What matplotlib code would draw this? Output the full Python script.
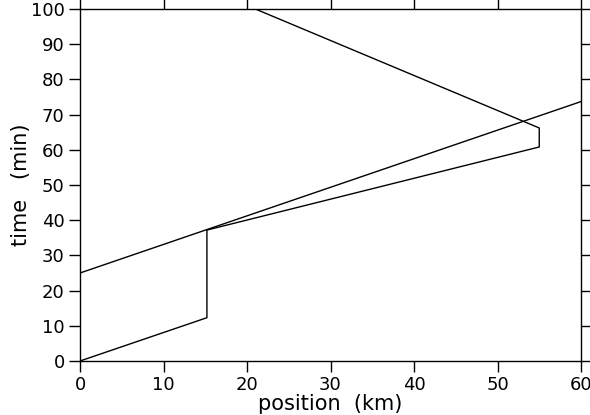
import numpy as np
import matplotlib.pyplot as plt

# path of the vehicle: position (km) vs time (min)
path_x = [0, 15.2, 15.2, 55, 55, 21]
path_t = [0, 12.3, 37.2, 60.8, 66.2, 100]

# straight line
line_x = [0, 60]
line_t = [25, 73.7]

fig = plt.figure(figsize=(5.9, 4.15), dpi=100)
ax = fig.add_axes([80/590, 54/415, 501/590, 352/415])

ax.plot(path_x, path_t, color='black', lw=1)
ax.plot(line_x, line_t, color='black', lw=1)

ax.set_xlim(0, 60)
ax.set_ylim(0, 100)
ax.set_xticks(np.arange(0, 61, 10))
ax.set_yticks(np.arange(0, 101, 10))
ax.tick_params(direction='out', length=8, width=1, labelsize=13,
               top=True, right=True, pad=3)
for s in ax.spines.values():
    s.set_linewidth(1)

ax.set_xlabel("position  (km)", fontsize=15, labelpad=0)
ax.set_ylabel("time   (min)", fontsize=15, labelpad=0)

fig.savefig("out.png", dpi=100)
